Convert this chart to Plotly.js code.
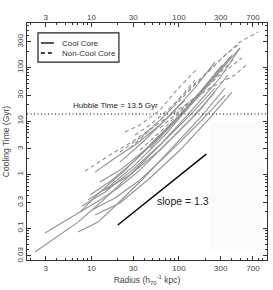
<!DOCTYPE html>
<html><head><meta charset="utf-8">
<script src="https://cdn.plot.ly/plotly-3.0.1.min.js"></script>
<style>html,body{margin:0;padding:0;background:#fff}#chart{width:273px;height:290px}</style>
</head><body><div id="chart"></div>
<script>
// Cool-core clusters (solid): radius (kpc) and cooling time (Gyr)
const ccX = [
  [2.26,7.01,12.5,27.5,60.7,134,258],
  [2.94,7.39,12.5,24.2,53.2,117,226,404],
  [7.01,11.9,18.6,35.8,78.9,174,336],
  [7.39,12.5,20.1,35.8,78.9,174,363],
  [7.80,14.3,27.5,60.7,134,294,498],
  [9.13,16.3,31.4,69.2,152,279],
  [9.62,17.2,34.0,74.8,165,310],
  [12.5,21.2,40.9,90.0,198,383],
  [10.1,18.6,35.8,78.9,174,336],
  [11.0,21.2,46.6,103,226,404],
  [14.3,27.5,60.7,134,258],
  [11.0,18.6,31.4,60.7,117],
  [21.2,40.9,78.9,152,258],
  [46.6,90.0,174,336,498]
];
const ccY = [
  [0.0356,0.129,0.293,0.98,3.56,12.9,41.4],
  [0.0807,0.199,0.471,1.21,4.42,16.1,58.4,171],
  [0.0841,0.129,0.258,0.724,2.87,11.4,41.4],
  [0.199,0.334,0.560,1.21,4.42,16.1,72.4],
  [0.258,0.471,1.11,3.56,14.7,63.6,232],
  [0.334,0.610,1.51,5.47,24.7,89.9],
  [0.414,0.789,2.04,7.39,30.6,111],
  [0.724,1.21,2.87,10.4,41.4,151],
  [0.217,0.364,0.789,2.64,9.58,30.6],
  [0.175,0.293,0.861,2.87,11.4,34.8],
  [0.513,0.98,2.87,10.4,34.8],
  [1.11,2.04,3.56,8.41,24.7],
  [1.71,4.42,12.9,41.4,127],
  [3.13,9.58,30.6,111,232]
];
// Non-cool-core clusters (dashed)
const nccX = [
  [8.44,16.3,31.4,60.7,117,226,437,615],
  [21.2,35.8,60.7,103,174,294,498,800],
  [24.2,35.8,60.7,90.0,127,156],
  [27.5,46.6,78.9,117,152],
  [31.4,46.6,78.9,134,226,336,472],
  [35.8,60.7,103,174,294,437],
  [60.7,103,174,294,525]
];
const nccY = [
  [1.16,2.32,4.42,9.58,19.9,41.4,72.4,121],
  [2.64,4.81,10.4,24.7,58.4,138,300,461],
  [6.23,8.41,16.1,34.8,63.6,89.9],
  [3.13,6.79,16.1,34.8,58.4],
  [5.47,8.41,17.5,41.4,89.9,171,264],
  [2.87,6.23,14.7,34.8,82.4,151],
  [7.39,16.1,34.8,72.4,151]
];
// Reference slope line
const slopeX = [20, 205];
const slopeY = [0.114, 2.4];
const hubbleTime = 13.5;
// Ticks
const xTickVals = [3,10,30,100,300,700];
const xTickText = ['3','10','30','100','300','700'];
const xMinor = [2,4,5,6,7,8,9,20,40,50,60,70,80,90,200,400,500,600,800,900];
const yTickVals = [0.03,0.1,0.3,1,3,10,30,100,300];
const yTickText = ['0.03','0.1','0.3','1','3','10','30','100','300'];
const yMinor = [0.04,0.05,0.06,0.07,0.08,0.09,0.2,0.4,0.5,0.6,0.7,0.8,0.9,2,4,5,6,7,8,9,20,40,50,60,70,80,90,200,400,500,600];

const gray = '#939393';
const traces = [];
ccX.forEach((xs,i)=>traces.push({x:xs,y:ccY[i],type:'scatter',mode:'lines',line:{color:gray,width:1.1},showlegend:false,hoverinfo:'skip'}));
nccX.forEach((xs,i)=>traces.push({x:xs,y:nccY[i],type:'scatter',mode:'lines',line:{color:gray,width:1.1,dash:'4px,3px'},showlegend:false,hoverinfo:'skip'}));
traces.push({x:slopeX,y:slopeY,type:'scatter',mode:'lines',line:{color:'#000',width:1.4},showlegend:false,hoverinfo:'skip'});
traces.push({x:[100],y:[1],xaxis:'x2',type:'scatter',mode:'markers',marker:{opacity:0},showlegend:false,hoverinfo:'skip'});

const xr = [0.263, 3.006], yr = [-1.598, 2.832];
const fam = 'Liberation Sans, Arial, sans-serif';
const minorX = {tickmode:'array',tickvals:xMinor,ticks:'inside',ticklen:2,tickcolor:'#333',tickwidth:1};
const minorY = {tickmode:'array',tickvals:yMinor,ticks:'inside',ticklen:2,tickcolor:'#333',tickwidth:1};
const layout = {
  width:273,height:290,
  margin:{l:27,r:6,t:23,b:30,pad:0},
  paper_bgcolor:'#fff',plot_bgcolor:'#fff',
  font:{family:fam,size:8,color:'#333'},
  xaxis:{type:'log',range:xr,showgrid:false,zeroline:false,showline:true,linecolor:'#333',linewidth:1,mirror:'ticks',
    ticks:'inside',ticklen:4,tickcolor:'#333',tickmode:'array',tickvals:xTickVals,ticktext:xTickText,
    tickfont:{size:8,color:'#444'},minor:minorX,
    title:{text:'Radius (h<sub>70</sub><sup>-1</sup> kpc)',font:{size:8.5,color:'#444'},standoff:5}},
  xaxis2:{type:'log',range:xr,overlaying:'x',side:'top',showgrid:false,zeroline:false,showline:false,ticks:'',
    tickmode:'array',tickvals:xTickVals,ticktext:xTickText,tickfont:{size:8,color:'#444'}},
  yaxis:{type:'log',range:yr,showgrid:false,zeroline:false,showline:true,linecolor:'#333',linewidth:1,mirror:'ticks',
    ticks:'inside',ticklen:4,tickcolor:'#333',tickmode:'array',tickvals:yTickVals,ticktext:yTickText,tickangle:-90,
    tickfont:{size:8,color:'#444'},minor:minorY,
    title:{text:'Cooling Time (Gyr)',font:{size:8.5,color:'#444'},standoff:4}},
  shapes:[
    {type:'rect',xref:'paper',yref:'paper',x0:0.76,x1:0.985,y0:0.04,y1:0.585,fillcolor:'#fbfbfb',line:{width:0},layer:'below'},
    {type:'line',xref:'paper',yref:'y',x0:0,x1:1,y0:hubbleTime,y1:hubbleTime,line:{color:'#000',width:1.1,dash:'1px,2.5px'}},
    {type:'rect',xref:'paper',yref:'paper',x0:0.0458,x1:0.383,y0:0.835,y1:0.958,line:{color:'#222',width:1.2},fillcolor:'#fff'},
    {type:'line',xref:'paper',yref:'paper',x0:0.058,x1:0.1125,y0:0.9156,y1:0.9156,line:{color:'#000',width:1.3}},
    {type:'line',xref:'paper',yref:'paper',x0:0.058,x1:0.1125,y0:0.8734,y1:0.8734,line:{color:'#000',width:1.3,dash:'4px,3px'}}
  ],
  annotations:[
    {xref:'paper',yref:'paper',x:0.1375,y:0.9156,xanchor:'left',yanchor:'middle',text:'Cool Core',showarrow:false,font:{size:8,color:'#333'}},
    {xref:'paper',yref:'paper',x:0.1375,y:0.8734,xanchor:'left',yanchor:'middle',text:'Non-Cool Core',showarrow:false,font:{size:8,color:'#333'}},
    {xref:'paper',yref:'paper',x:0.367,y:0.654,xanchor:'center',yanchor:'middle',text:'Hubble Time = 13.5 Gyr',showarrow:false,font:{size:8,color:'#222'}},
    {xref:'paper',yref:'paper',x:0.65,y:0.249,xanchor:'center',yanchor:'middle',text:'slope = 1.3',showarrow:false,font:{size:10.5,color:'#222'}}
  ]
};
Plotly.newPlot('chart',traces,layout,{displayModeBar:false,staticPlot:true});
</script></body></html>
